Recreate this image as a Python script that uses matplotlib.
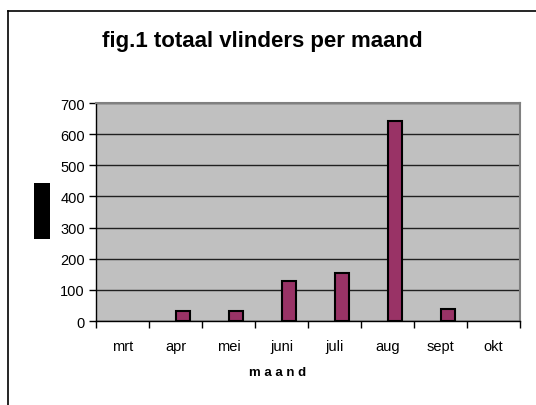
import matplotlib
matplotlib.use("Agg")
import matplotlib.pyplot as plt
from matplotlib.patches import Rectangle
from matplotlib.lines import Line2D
import numpy as np

plt.rcParams['font.family'] = ['Liberation Sans', 'DejaVu Sans']

months = ["mrt", "apr", "mei", "juni", "juli", "aug", "sept", "okt"]
totals = [0, 32, 32, 128, 154, 643, 38, 0]
yticks = [0, 100, 200, 300, 400, 500, 600, 700]

W, H = 536, 406
fig = plt.figure(figsize=(W / 100, H / 100), dpi=100)
fig.patch.set_facecolor("white")

# plot area in pixels
L, R, T, B = 96, 520, 104, 322
ax = fig.add_axes([L / W, 1 - B / H, (R - L) / W, (B - T) / H])
ax.set_facecolor("#c0c0c0")

x = np.arange(len(months))
vals = np.array(totals, dtype=float)
nz = vals > 0
ax.bar(x[nz], vals[nz], width=0.28, align="edge", color="#993366",
       edgecolor="black", linewidth=1.5, zorder=3)

ax.set_xlim(-0.5, len(months) - 0.5)
ax.set_ylim(0, 700)
ax.set_yticks(yticks)
ax.set_yticklabels([str(v) for v in yticks])
ax.yaxis.grid(True, color="#202020", linewidth=1.0, zorder=1)
ax.set_axisbelow(True)

ax.set_xticks(np.arange(len(months) + 1) - 0.5)
ax.set_xticklabels([])
ax.set_xticks(x, minor=True)
ax.set_xticklabels(months, minor=True)
ax.tick_params(axis="x", which="minor", length=0, pad=13, labelsize=10.5)
ax.tick_params(axis="x", which="major", length=5, width=1, direction="out", color="black")
ax.tick_params(axis="y", length=5, width=1, direction="out", labelsize=10.5, pad=3)

for s in ["left", "bottom"]:
    ax.spines[s].set_color("black")
    ax.spines[s].set_linewidth(1.0)
for s in ["top", "right"]:
    ax.spines[s].set_color("#808080")
    ax.spines[s].set_linewidth(1.5)

fig.text(262 / W, 1 - 41 / H, "fig.1 totaal vlinders per maand",
         ha="center", va="center", fontsize=16, fontweight="bold")
fig.text(278 / W, 1 - 373 / H, "m a a n d", ha="center", va="center",
         fontsize=9.5, fontweight="bold")

# redacted y-axis label block
fig.patches.append(Rectangle((34 / W, 1 - 240 / H), 16 / W, 56 / H,
                             transform=fig.transFigure, facecolor="black",
                             edgecolor="none"))

# outer chart frame (left and top edges visible)
fig.lines.append(Line2D([8 / W, 8 / W], [0, 1 - 12 / H], transform=fig.transFigure,
                        color="black", linewidth=1.2))
fig.lines.append(Line2D([8 / W, 1], [1 - 12 / H, 1 - 12 / H], transform=fig.transFigure,
                        color="black", linewidth=1.2))

fig.savefig("out.png", dpi=100)
